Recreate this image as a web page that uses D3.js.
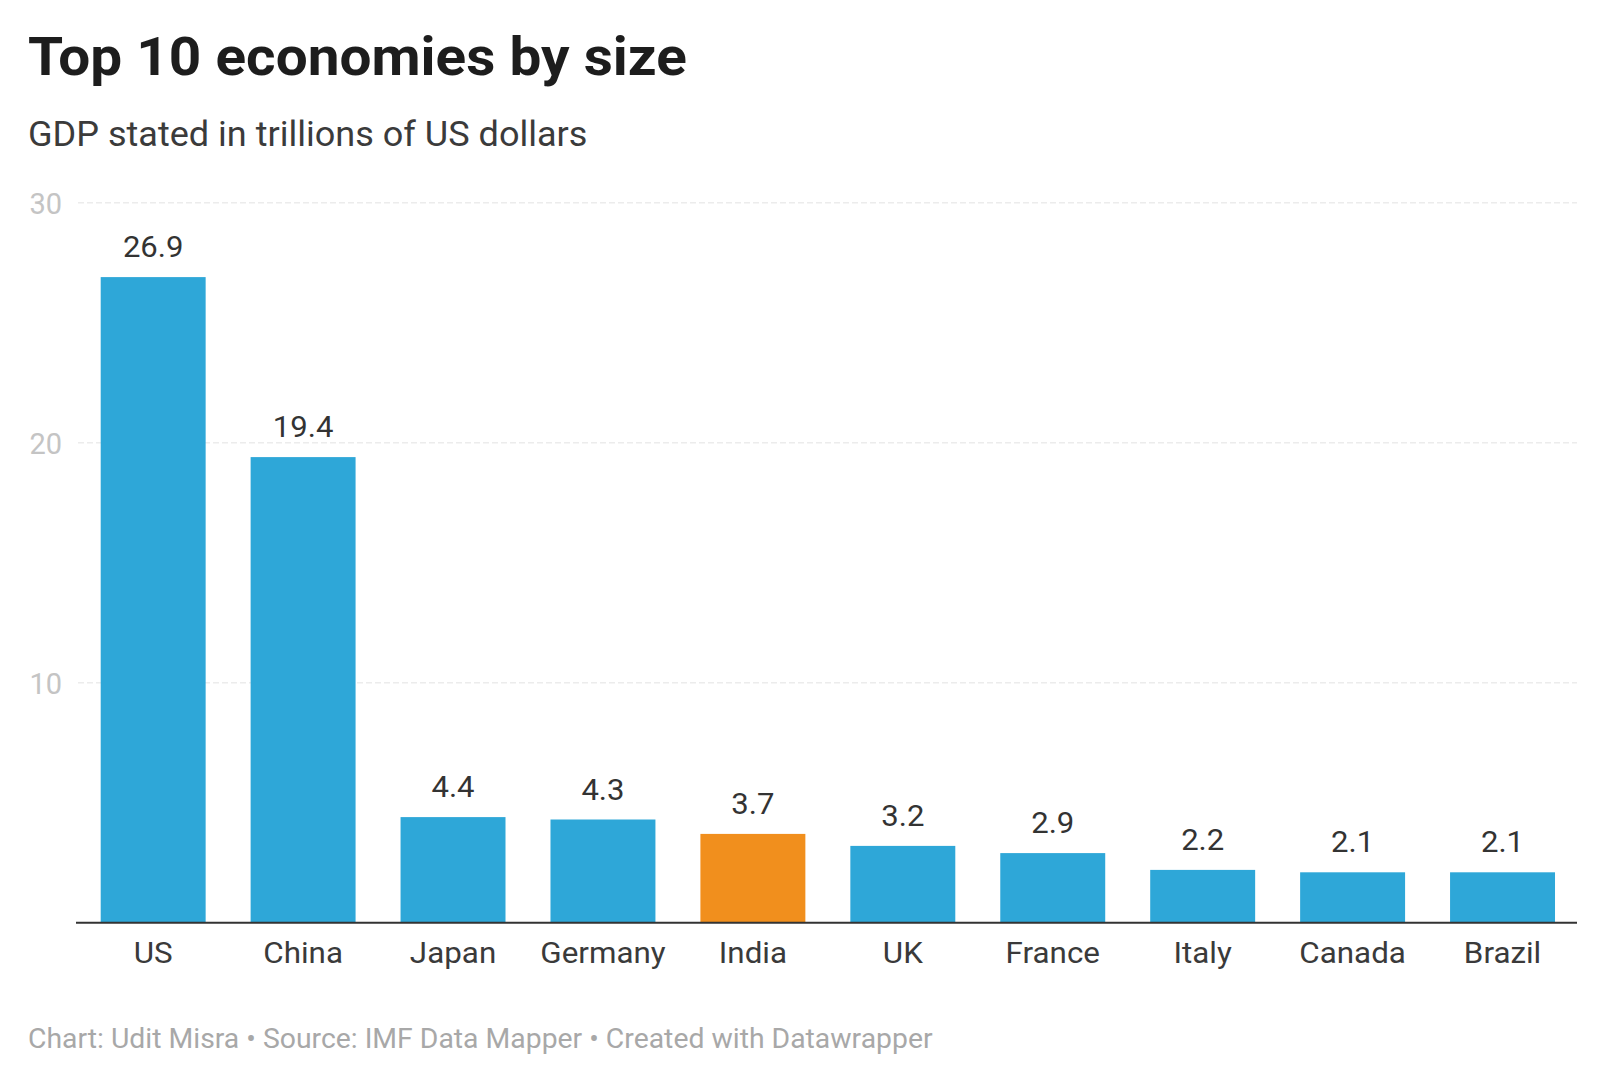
<!DOCTYPE html>
<html>
<head>
<meta charset="utf-8">
<script src="https://cdn.jsdelivr.net/npm/d3@7"></script>
<style>
  html, body { margin: 0; padding: 0; background: #ffffff; }
  svg { display: block; font-family: Roboto, "Noto Sans", sans-serif; }
</style>
</head>
<body>
<svg id="chart" width="1600" height="1083"></svg>
<script>
const countries = ["US", "China", "Japan", "Germany", "India", "UK", "France", "Italy", "Canada", "Brazil"];
const gdp = [26.9, 19.4, 4.4, 4.3, 3.7, 3.2, 2.9, 2.2, 2.1, 2.1];
const highlight = ["India"];
const yTicks = [0, 10, 20, 30];
const titleText = "Top 10 economies by size";
const subtitleText = "GDP stated in trillions of US dollars";
const footerText = "Chart: Udit Misra \u2022 Source: IMF Data Mapper \u2022 Created with Datawrapper";

const data = countries.map((c, i) => ({ country: c, value: gdp[i] }));

const svg = d3.select("#chart");
const W = 1600, H = 1083;

svg.append("rect").attr("width", W).attr("height", H).attr("fill", "#ffffff");

// slight horizontal widening of glyphs to match the reference's text proportions
function stretch(sel, k) {
  sel.each(function () {
    const len = this.getComputedTextLength();
    d3.select(this).attr("textLength", len * k).attr("lengthAdjust", "spacingAndGlyphs");
  });
}

const plotLeft = 78.2, plotRight = 1577.5;
const y0 = 922.7, y30 = 202.7;

const x = d3.scaleBand()
  .domain(countries)
  .range([plotLeft, plotRight])
  .paddingInner(0.3)
  .paddingOuter(0.15);

const y = d3.scaleLinear().domain([0, 30]).range([y0, y30]);

// Title
svg.append("text")
  .attr("x", 28).attr("y", 75)
  .attr("font-size", 54).attr("font-weight", 700)
  .attr("fill", "#1d1d1d")
  .text(titleText)
  .call(stretch, 1.05);

svg.append("text")
  .attr("x", 28).attr("y", 146)
  .attr("font-size", 35)
  .attr("fill", "#3b3b3b")
  .text(subtitleText)
  .call(stretch, 1.03);

// Gridlines
const grid = svg.append("g");
grid.selectAll("line")
  .data(yTicks.filter(t => t > 0))
  .join("line")
  .attr("x1", 78).attr("x2", 1577)
  .attr("y1", d => y(d)).attr("y2", d => y(d))
  .attr("stroke", "#ececec")
  .attr("stroke-width", 1.5)
  .attr("stroke-dasharray", "6,3");

// Y axis labels
const yAxis = d3.axisLeft(y).tickValues(yTicks.filter(t => t > 0)).tickSize(0).tickPadding(0);
const gy = svg.append("g").attr("transform", "translate(62,0)").call(yAxis);
gy.select(".domain").remove();
gy.selectAll("text")
  .attr("font-family", "Roboto, 'Noto Sans', sans-serif")
  .attr("font-size", 29)
  .attr("fill", "#c4c4c4")
  .attr("dy", "0.36em");

// Bars
svg.append("g").selectAll("rect")
  .data(data)
  .join("rect")
  .attr("x", d => x(d.country))
  .attr("width", x.bandwidth())
  .attr("y", d => y(d.value))
  .attr("height", d => y(0) - y(d.value))
  .attr("fill", d => highlight.includes(d.country) ? "#f18f1d" : "#2ea7d8");

// Value labels
svg.append("g").selectAll("text")
  .data(data)
  .join("text")
  .attr("x", d => x(d.country) + x.bandwidth() / 2)
  .attr("y", d => y(d.value) - 20)
  .attr("text-anchor", "middle")
  .attr("font-size", 30)
  .attr("fill", "#333333")
  .text(d => d3.format(".1f")(d.value))
  .call(stretch, 1.035);

// X axis
const xAxis = d3.axisBottom(x).tickSize(0).tickPadding(0);
const gx = svg.append("g").attr("transform", `translate(0,${y0})`).call(xAxis);
gx.select(".domain").remove();
gx.selectAll("text")
  .attr("font-family", "Roboto, 'Noto Sans', sans-serif")
  .attr("font-size", 30)
  .attr("fill", "#3a3a3a")
  .attr("dy", 0)
  .attr("y", 40)
  .call(stretch, 1.045);

svg.append("line")
  .attr("x1", 76).attr("x2", 1577)
  .attr("y1", y0).attr("y2", y0)
  .attr("stroke", "#333333")
  .attr("stroke-width", 2);

// Footer
svg.append("text")
  .attr("x", 28).attr("y", 1048)
  .attr("font-size", 27)
  .attr("fill", "#a8a8a8")
  .text(footerText)
  .call(stretch, 1.05);
</script>
</body>
</html>
